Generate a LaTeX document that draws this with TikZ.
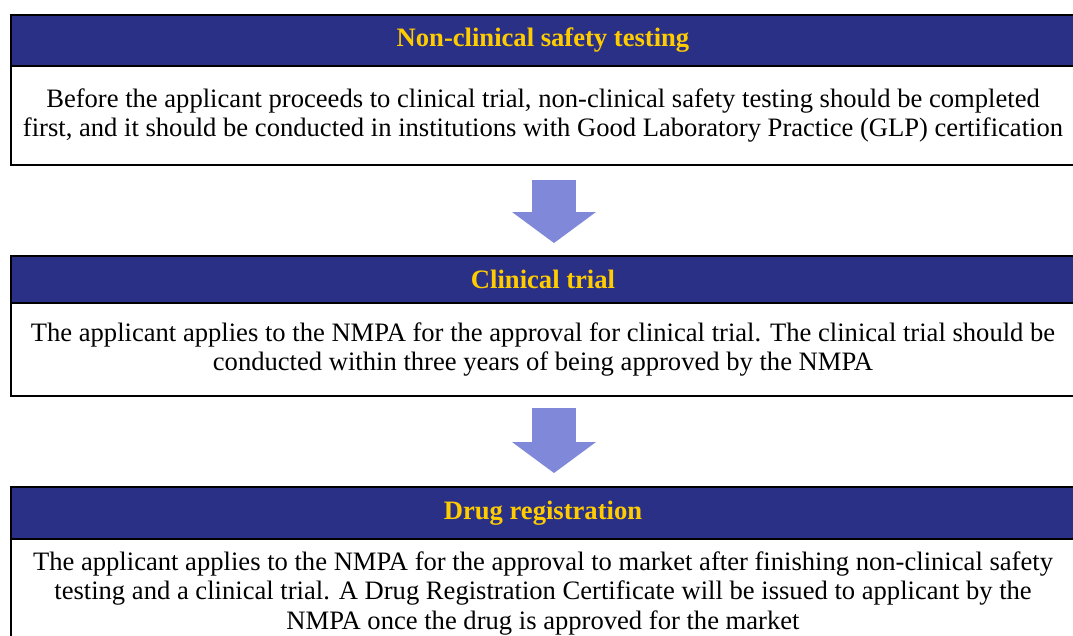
\documentclass[tikz,border=0pt]{standalone}
\usepackage{fontspec}
\setmainfont{Liberation Serif}
\usetikzlibrary{arrows.meta,positioning}
\definecolor{Navy}{HTML}{2A3086}
\definecolor{Gold}{HTML}{FFCC00}
\definecolor{Lavender}{HTML}{8088DA}

\begin{document}
\begin{tikzpicture}[x=1pt,y=1pt,node distance=0pt]
    \tikzset{
      header/.style={draw=black,line width=2pt,fill=Navy,text=Gold,minimum width=1064pt,
                     inner sep=0pt,outer sep=0pt,font=\fontsize{26.6}{29}\selectfont\bfseries},
      body/.style={draw=black,line width=2pt,fill=white,minimum width=1064pt,align=center,
                   inner sep=0pt,outer sep=0pt,font=\fontsize{26.6}{29.5}\selectfont},
      bigarrow/.style={-{Triangle[length=31pt,width=84pt,line width=0pt]},line width=44pt,draw=Lavender}
    }
    \useasboundingbox (0,0) rectangle (1073,-635);
    % stage 1
    \node[header,minimum height=51pt,anchor=north west] (head1) at (11,-15) {Non-clinical safety testing};
    \node[body,minimum height=99pt,below=of head1] (body1)
      {Before the applicant proceeds to clinical trial, non-clinical safety testing should be completed\\
       first, and it should be conducted in institutions with Good Laboratory Practice (GLP) certification};
    % stage 2
    \node[header,minimum height=47pt,below=91pt of body1] (head2) {Clinical trial};
    \node[body,minimum height=93pt,below=of head2] (body2)
      {The applicant applies to the NMPA for the approval for clinical trial. The clinical trial should be\\
       conducted within three years of being approved by the NMPA};
    % stage 3
    \node[header,minimum height=52pt,below=91pt of body2] (head3) {Drug registration};
    \node[body,minimum height=108pt,below=of head3] (body3)
      {The applicant applies to the NMPA for the approval to market after finishing non-clinical safety\\
       testing and a clinical trial. A Drug Registration Certificate will be issued to applicant by the\\
       NMPA once the drug is approved for the market};
    % block arrows between stages
    \draw[bigarrow] ([xshift=11pt,yshift=-15pt]body1.south) -- ([xshift=11pt,yshift=13pt]head2.north);
    \draw[bigarrow] ([xshift=11pt,yshift=-12pt]body2.south) -- ([xshift=11pt,yshift=14pt]head3.north);
\end{tikzpicture}
\end{document}
